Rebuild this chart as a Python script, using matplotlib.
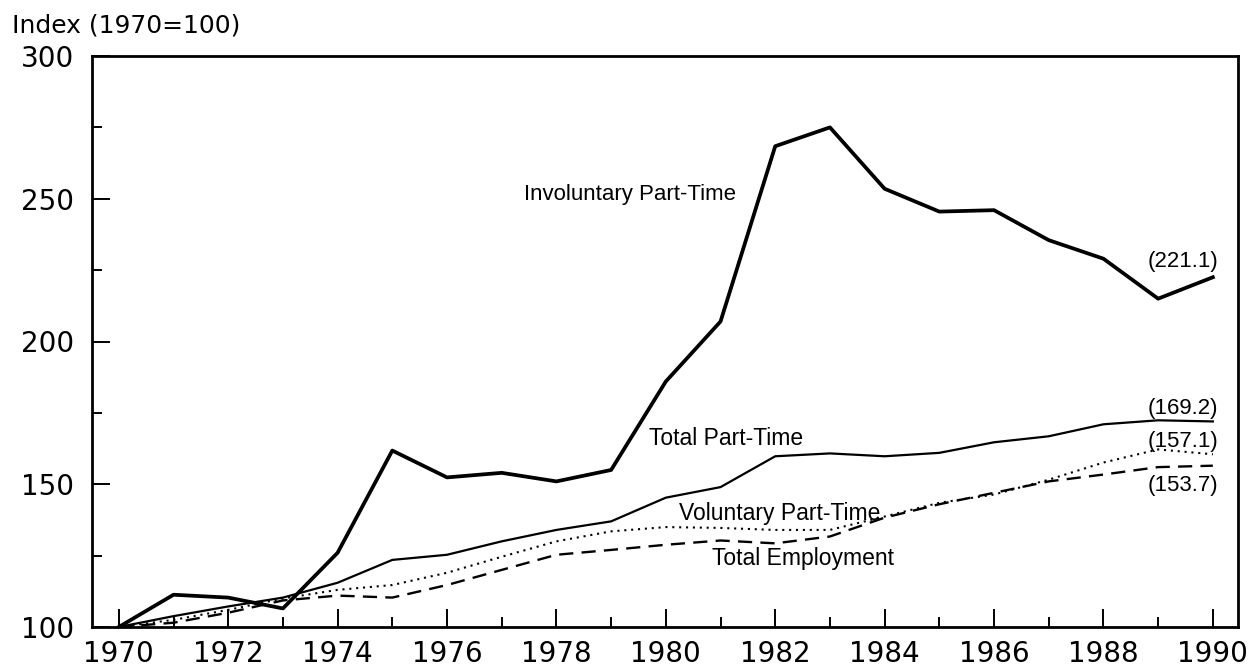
import matplotlib
matplotlib.use("Agg")
import matplotlib.pyplot as plt
from matplotlib.ticker import MultipleLocator

years = list(range(1970, 1991))
involuntary = [100, 111.3, 110.3, 106.5, 126, 161.8, 152.4, 154, 151, 155, 186,
               207, 268.4, 275, 253.5, 245.5, 246, 235.5, 229, 215, 222.5]
total_pt = [100, 103.8, 107.2, 110.3, 115.5, 123.5, 125.3, 130, 134, 137, 145.3,
            149, 159.8, 160.8, 159.8, 161, 164.7, 166.8, 171, 172.4, 172]
voluntary = [100, 102.5, 106, 110, 113, 114.7, 119, 124.6, 130, 133.5, 135,
             134.7, 134, 134, 138.7, 143.5, 146.4, 151.6, 157.6, 162.2, 160.5]
total_emp = [100, 101.5, 105, 109.3, 111, 110.3, 114.7, 120, 125.3, 127, 128.8,
             130.3, 129.3, 131.7, 138.3, 143, 147, 151, 153.4, 156, 156.5]

end_labels = ["(221.1)", "(169.2)", "(157.1)", "(153.7)"]
end_label_y = [228.1, 176.5, 164.9, 149.5]

fig = plt.figure(figsize=(12.57, 6.67), dpi=100)
ax = fig.add_axes([92/1257, 40/667, (1238-92)/1257, (627-56)/667])

ax.plot(years, involuntary, color="black", lw=2.7)
ax.plot(years, total_pt, color="black", lw=1.6)
ax.plot(years, voluntary, color="black", lw=1.5, linestyle=(0, (1, 2.3)))
ax.plot(years, total_emp, color="black", lw=1.7, linestyle=(0, (6, 3.5)))

ax.set_xlim(1969.51, 1990.46)
ax.set_ylim(100, 300)

for s in ax.spines.values():
    s.set_linewidth(2.0)

ax.xaxis.set_major_locator(MultipleLocator(2))
ax.xaxis.set_minor_locator(MultipleLocator(1))
ax.yaxis.set_major_locator(MultipleLocator(50))
ax.yaxis.set_minor_locator(MultipleLocator(25))
ax.tick_params(axis="both", which="major", direction="in", length=13, width=1.4,
               labelsize=20)
ax.tick_params(axis="both", which="minor", direction="in", length=7, width=1.4)
ax.tick_params(axis="x", which="major", pad=9)
ax.tick_params(axis="y", which="major", pad=13)
ax.tick_params(top=False, right=False, which="both")
for lab in ax.get_xticklabels() + ax.get_yticklabels():
    lab.set_family("DejaVu Sans")

ax.text(1979.34, 251.6, "Involuntary Part-Time", ha="center", va="center",
        fontsize=16, family="Liberation Sans")
ax.text(1981.10, 166.0, "Total Part-Time", ha="center", va="center",
        fontsize=16.5, family="Liberation Sans")
ax.text(1982.08, 139.6, "Voluntary Part-Time", ha="center", va="center",
        fontsize=16.5, family="Liberation Sans")
ax.text(1982.50, 123.9, "Total Employment", ha="center", va="center",
        fontsize=16.5, family="Liberation Sans")
for lab, yv in zip(end_labels, end_label_y):
    ax.text(1989.45, yv, lab, ha="center", va="center", fontsize=16,
            family="Liberation Sans")

fig.text(12/1257, 1 - 25/667, "Index (1970=100)", ha="left", va="center",
         fontsize=18, family="DejaVu Sans")

fig.savefig("out.png", dpi=100)
